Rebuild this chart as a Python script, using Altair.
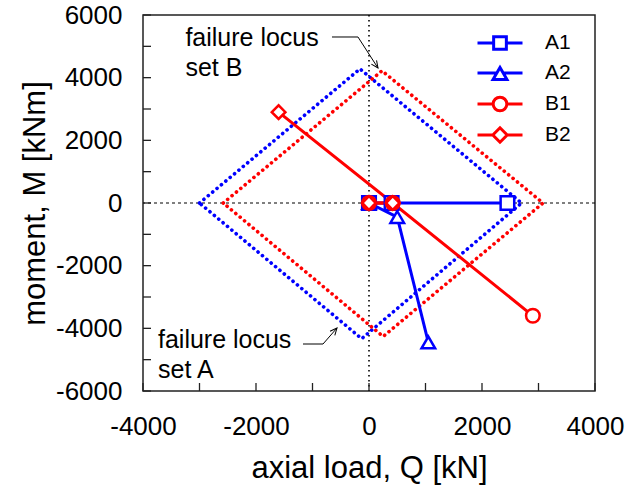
import altair as alt
import pandas as pd

# ---------------- data ----------------
series_names = ["A1", "A2", "B1", "B2"]
series_colors = ["#0000ff", "#0000ff", "#ff0000", "#ff0000"]
series_shapes = ["square", "triangle-up", "circle", "diamond"]

a1_q = [0, 400, 2450]
a1_m = [0, 0, 0]
a2_q = [0, 500, 1050]
a2_m = [0, -450, -4450]
b1_q = [0, 420, 2900]
b1_m = [0, 0, -3600]
b2_q = [0, 420, -1600]
b2_m = [0, 0, 2900]

locus_a_q = [-3000, -160, 2700, -130, -3000]
locus_a_m = [0, 4280, 0, -4330, 0]
locus_b_q = [-2580, 230, 3080, 250, -2580]
locus_b_m = [0, 4220, 0, -4260, 0]

x_label_values = [-4000, -2000, 0, 2000, 4000]
y_label_values = [-6000, -4000, -2000, 0, 2000, 4000, 6000]
x_tick_values = [-4000, -3000, -2000, -1000, 0, 1000, 2000, 3000, 4000]
y_tick_values = [-6000, -5000, -4000, -3000, -2000, -1000, 0,
                 1000, 2000, 3000, 4000, 5000, 6000]

note_text = ["failure locus", "set B", "failure locus", "set A"]
note_q = [-3250, -3250, -3735, -3735]
note_m = [5266, 4309, -4372, -5330]

arrow_b_q = [-655, -195, 159]
arrow_b_m = [5298, 5298, 4309]
arrow_a_q = [-1168, -814, -566]
arrow_a_m = [-4500, -4500, -3989]

# ---------------- tables ----------------
rows = []
for name, qs, ms in zip(series_names, [a1_q, a2_q, b1_q, b2_q], [a1_m, a2_m, b1_m, b2_m]):
    for i, (q, m) in enumerate(zip(qs, ms)):
        rows.append({"series": name, "idx": i, "q": q, "m": m})
pts = pd.DataFrame(rows)

locus_a = pd.DataFrame({"q": locus_a_q, "m": locus_a_m, "idx": range(len(locus_a_q))})
locus_b = pd.DataFrame({"q": locus_b_q, "m": locus_b_m, "idx": range(len(locus_b_q))})
notes = pd.DataFrame({"t": note_text, "q": note_q, "m": note_m})
arrow_a = pd.DataFrame({"q": arrow_a_q, "m": arrow_a_m, "idx": range(3)})
arrow_b = pd.DataFrame({"q": arrow_b_q, "m": arrow_b_m, "idx": range(3)})
arrow_tips = pd.DataFrame({"q": [arrow_b_q[-1], arrow_a_q[-1]],
                           "m": [arrow_b_m[-1], arrow_a_m[-1]],
                           "ang": [325, 221]})
zero_df = pd.DataFrame({"v": [0]})
xt = pd.DataFrame({"v": x_tick_values})
yt = pd.DataFrame({"v": y_tick_values})

FONT = "Liberation Sans"
W, H = 452, 376

xs = alt.Scale(domain=[-4000, 4000], nice=False, zero=False)
ys = alt.Scale(domain=[-6000, 6000], nice=False, zero=False)

xaxis = alt.Axis(title="axial load, Q [kN]", values=x_label_values, ticks=False, tickSize=0,
                 domain=False, grid=False, labelFontSize=26, labelFont=FONT,
                 labelColor="black", labelPadding=22, labelFlush=False, labelOverlap=False,
                 labelExpr="'' + datum.value", titleFont=FONT, titleFontSize=31,
                 titleFontWeight="normal", titleColor="black", titleY=77,
                 titleBaseline="middle")
yaxis = alt.Axis(title="moment, M [kNm]", values=y_label_values, ticks=False, tickSize=0,
                 domain=False, grid=False, labelFontSize=26, labelFont=FONT,
                 labelColor="black", labelPadding=21, labelFlush=False, labelOverlap=False,
                 labelExpr="'' + datum.value", titleFont=FONT, titleFontSize=31,
                 titleFontWeight="normal", titleColor="black", titleX=-108, titleY=H / 2,
                 titleAngle=270, titleAlign="center", titleBaseline="middle")


def X(f="q"):
    return alt.X(f"{f}:Q", scale=xs, axis=xaxis)


def Y(f="m"):
    return alt.Y(f"{f}:Q", scale=ys, axis=yaxis)


color_scale = alt.Scale(domain=series_names, range=series_colors)

# reference lines
hline = alt.Chart(zero_df).mark_rule(color="black", strokeWidth=1.2, strokeDash=[3, 3]).encode(y=Y("v"))
vline = alt.Chart(zero_df).mark_rule(color="black", strokeWidth=1.6, strokeDash=[1.6, 3.4]).encode(x=X("v"))

# inward ticks
xticks = alt.Chart(xt).mark_rule(color="#222", strokeWidth=1.3).encode(
    x=X("v"), y=alt.value(H), y2=alt.value(H - 8))
yticks = alt.Chart(yt).mark_rule(color="#222", strokeWidth=1.3).encode(
    y=Y("v"), x=alt.value(0), x2=alt.value(8))


# failure loci
def locus(df, col):
    return alt.Chart(df).mark_line(color=col, strokeWidth=3.6, strokeDash=[0.1, 5.6],
                                   strokeCap="round").encode(x=X(), y=Y(), order="idx:Q")


loc_a = locus(locus_a, "#0000ff")
loc_b = locus(locus_b, "#ff0000")

# series lines
lines = alt.Chart(pts).mark_line(strokeWidth=3).encode(
    x=X(), y=Y(), stroke=alt.Stroke("series:N", scale=color_scale, legend=None),
    detail="series:N", order="idx:Q")

# markers, one layer per series (drawn in order A1, A2, B1, B2)
marker_layers = []
for name, col, shp in zip(series_names, series_colors, series_shapes):
    marker_layers.append(
        alt.Chart(pts).transform_filter(alt.datum.series == name).mark_point(
            shape=shp, filled=True, fill="white", stroke=col, opacity=1,
            strokeWidth=2.5, size=185).encode(x=X(), y=Y()))

# legend (line + marker symbols)
legend_paths = [
    "M-1.875,0H-0.53M0.53,0H1.875M-0.53,-0.53H0.53V0.53H-0.53Z",
    "M-1.875,0H-0.26M0.26,0H1.875M0,-0.45L0.58,0.55H-0.58Z",
    "M-1.875,0H-0.57M0.57,0H1.875M-0.57,0A0.57,0.57,0,1,0,0.57,0A0.57,0.57,0,1,0,-0.57,0Z",
    "M-1.875,0H-0.6M0.6,0H1.875M-0.6,0L0,-0.6L0.6,0L0,0.6Z",
]
leg = dict(orient="none", legendX=343.5, legendY=14.5, title=None, labelFontSize=21,
           labelFont=FONT, labelColor="black", symbolSize=576, symbolStrokeWidth=3,
           rowPadding=4, labelOffset=31.5, padding=0)
legend_layer = alt.Chart(pts).transform_filter("datum.idx < 0").mark_point(
    filled=False, opacity=1, strokeWidth=3).encode(
    x=X(), y=Y(),
    color=alt.Color("series:N", scale=color_scale, legend=alt.Legend(**leg)),
    shape=alt.Shape("series:N", scale=alt.Scale(domain=series_names, range=legend_paths),
                    legend=alt.Legend(**leg)))

# annotations
note_layer = alt.Chart(notes).mark_text(align="left", baseline="middle", fontSize=25,
                                        font=FONT, color="black").encode(x=X(), y=Y(), text="t:N")
arr_a = alt.Chart(arrow_a).mark_line(color="black", strokeWidth=1).encode(x=X(), y=Y(), order="idx:Q")
arr_b = alt.Chart(arrow_b).mark_line(color="black", strokeWidth=1).encode(x=X(), y=Y(), order="idx:Q")
tips = alt.Chart(arrow_tips).mark_point(shape="M-0.45,-1L0,0L0.45,-1", size=196, filled=False,
                                        opacity=1, color="black", strokeWidth=1).encode(
    x=X(), y=Y(), angle=alt.Angle("ang:Q", scale=None))

chart = alt.layer(
    hline, vline, loc_a, loc_b, lines, *marker_layers, legend_layer,
    note_layer, arr_a, arr_b, tips, xticks, yticks
).resolve_scale(shape="independent", color="independent").properties(
    width=W, height=H,
    padding={"left": 143, "top": 15, "right": 45, "bottom": 96},
    autosize=alt.AutoSizeParams(type="none"),
    background="white",
).configure_view(stroke="#222", strokeWidth=1.5)

chart.save("out.html", embed_options={"renderer": "svg", "actions": False})
